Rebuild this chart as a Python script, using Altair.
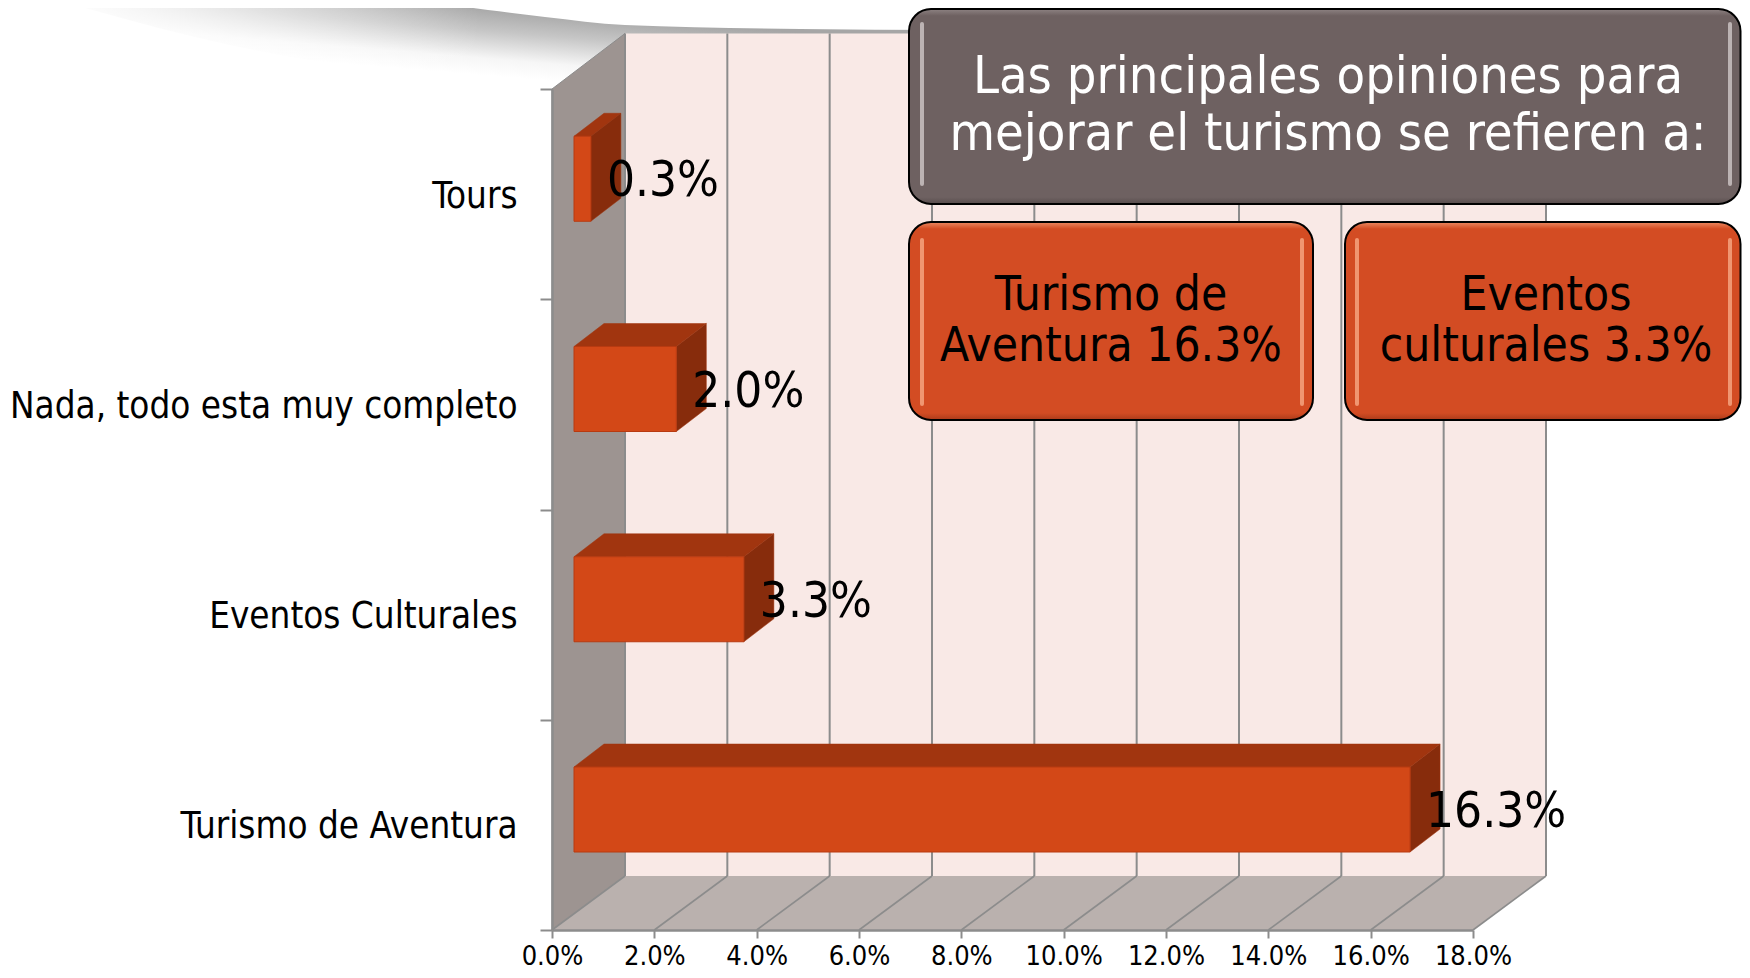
import altair as alt
import pandas as pd

categories = ["Tours", "Nada, todo esta muy completo", "Eventos Culturales", "Turismo de Aventura"]
values = [0.33, 2.0, 3.32, 16.34]
x_ticks = [0, 2, 4, 6, 8, 10, 12, 14, 16, 18]

swoosh_x = [57, 230, 402, 488, 545, 625, 800, 950, 1093, 1100]
swoosh_top = [0, 0, 0, 10, 17, 25, 29, 30, 4, 3]
swoosh_low = [0, 45, 75, 88, 90, 90, 90, 90, 90, 90]
fade_x = [57, 230, 402, 480]
fade_top = [-2, -2, -2, -2]
fade_low = [92, 92, 92, 92]

FONT = "DejaVu Sans Condensed"
AX0, AX1, AY0, AY1 = 552, 1473, 89, 930   # front axis box in page pixels
PX = (AX1 - AX0) / 18.0
PY = (AY1 - AY0) / 4.0
W, H = AX1 - AX0, AY1 - AY0
PAD = dict(left=AX0 - 8, top=AY0 - 8, right=1734 - (AX0 - 8) - W, bottom=962 - (AY0 - 8) - H)

def vx(px):
    return (px - AX0) / PX

def vy(py):
    return (AY1 - py) / PY

xs = alt.Scale(domain=[0, 18], nice=False, zero=False)
ys = alt.Scale(domain=[0, 4], nice=False, zero=False)
GRID = "#8c8c8c"

x_axis = alt.Axis(
    values=x_ticks, labelExpr="format(datum.value, '.1f') + '%'", title=None, grid=False,
    labelFont=FONT, labelFontSize=27, labelColor="#000000", labelPadding=5, labelOverlap=False,
    labelFlush=False, labelBound=False,
    tickSize=8, tickColor=GRID, tickWidth=2, domainColor=GRID, domainWidth=2.5, zindex=1)

def X(f="x", **k):
    return alt.X(f + ":Q", scale=xs, axis=x_axis, **k)

def Y(f="y", **k):
    return alt.Y(f + ":Q", scale=ys, axis=None, **k)

rows = [3, 2, 1, 0]
DEPTH_WX = 73 / PX
DEPTH_WY = 54 / PY
BAR_X0 = vx(574)
BAR_DX = 30 / PX
BAR_DY = 23 / PY
BAR_LO = (AY1 - 852) / PY
BAR_HI = (AY1 - 767) / PY

# invisible layer that carries the category axis
axis_df = pd.DataFrame({"cat": categories, "v": values})
axis_layer = alt.Chart(axis_df).mark_bar(opacity=0).encode(
    x=X("v"),
    y=alt.Y("cat:N", sort=categories,
            scale=alt.Scale(domain=categories, paddingInner=0, paddingOuter=0),
            axis=alt.Axis(title=None, grid=False, tickBand="extent", labelFont=FONT, labelFontSize=36.5,
                          labelColor="#000000", labelPadding=23, labelLimit=600, labelOffset=2, tickSize=12,
                          tickColor=GRID, tickWidth=2, domainColor=GRID, domainWidth=2.5, zindex=1)),
)

swoosh = alt.Chart(pd.DataFrame({
    "x": [vx(p) for p in swoosh_x],
    "y": [vy(p) for p in swoosh_top],
    "y2": [vy(p) for p in swoosh_low],
})).mark_area(
    interpolate="monotone",
    color=alt.Gradient(gradient="linear", x1=-0.05, y1=0.40, x2=0.33, y2=0.0,
                       stops=[alt.GradientStop(color="#ffffff", offset=0),
                              alt.GradientStop(color="#f6f6f6", offset=0.25),
                              alt.GradientStop(color="#dedede", offset=0.45),
                              alt.GradientStop(color="#c6c6c6", offset=0.65),
                              alt.GradientStop(color="#a6a6a6", offset=1)]),
).encode(x=X(), y=Y(), y2="y2:Q")

swoosh_fade = alt.Chart(pd.DataFrame({
    "x": [vx(p) for p in fade_x],
    "y": [vy(p) for p in fade_top],
    "y2": [vy(p) for p in fade_low],
})).mark_area(
    color=alt.Gradient(gradient="linear", x1=0, y1=0, x2=1, y2=0,
                       stops=[alt.GradientStop(color="rgba(255,255,255,1)", offset=0),
                              alt.GradientStop(color="rgba(255,255,255,0)", offset=1)]),
).encode(x=X(), y=Y(), y2="y2:Q")

back_wall = alt.Chart(pd.DataFrame({"x": [DEPTH_WX], "x2": [18 + DEPTH_WX], "y": [DEPTH_WY], "y2": [vy(33.5)]})).mark_rect(
    color="#f9e9e6").encode(x=X(), x2="x2:Q", y=Y(), y2="y2:Q")

side_wall = alt.Chart(pd.DataFrame({"x": [0, DEPTH_WX], "y": [0, DEPTH_WY], "y2": [4, vy(33.5)]})).mark_area(
    color="#9d9491", stroke=GRID, strokeWidth=1).encode(x=X(), y=Y(), y2="y2:Q")

floor = alt.Chart(pd.DataFrame({"x": [0, DEPTH_WX], "x2": [18, 18 + DEPTH_WX], "y": [0, DEPTH_WY]})).mark_area(
    color="#bab1ae", orient="horizontal").encode(x=X(), x2="x2:Q", y=Y())

back_grid = alt.Chart(pd.DataFrame({"t": x_ticks})).transform_calculate(
    x=f"datum.t + {DEPTH_WX}", y=f"{DEPTH_WY}", y2=f"{vy(33.5)}"
).mark_rule(color=GRID, strokeWidth=2).encode(x=X(), y=Y(), y2="y2:Q")

floor_rows = []
for t in x_ticks:
    floor_rows.append({"t": t, "x": t, "y": 0})
    floor_rows.append({"t": t, "x": t + DEPTH_WX, "y": DEPTH_WY})
floor_grid = alt.Chart(pd.DataFrame(floor_rows)).mark_line(color=GRID, strokeWidth=1.6).encode(
    x=X(), y=Y(), detail="t:N")

bars = pd.DataFrame({"cat": categories, "v": values, "row": rows})
bars["x"] = BAR_X0
bars["x2"] = BAR_X0 + bars["v"]
bars["y"] = bars["row"] + BAR_LO
bars["y2"] = bars["row"] + BAR_HI
bars["lx"] = bars["x2"]
bars["ly"] = bars["row"] + (AY1 - 827) / PY
bars["label"] = [f"{v:.1f}%" for v in values]

top_rows, side_rows = [], []
for c, v, r in zip(categories, values, rows):
    top_rows.append({"cat": c, "x": BAR_X0, "x2": BAR_X0 + v, "y": r + BAR_HI})
    top_rows.append({"cat": c, "x": BAR_X0 + BAR_DX, "x2": BAR_X0 + v + BAR_DX, "y": r + BAR_HI + BAR_DY})
    side_rows.append({"cat": c, "x": BAR_X0 + v, "y": r + BAR_LO, "y2": r + BAR_HI})
    side_rows.append({"cat": c, "x": BAR_X0 + v + BAR_DX, "y": r + BAR_LO + BAR_DY, "y2": r + BAR_HI + BAR_DY})

bar_top = alt.Chart(pd.DataFrame(top_rows)).mark_area(
    color="#a1350f", orient="horizontal", stroke="#a1350f", strokeWidth=0.5).encode(
    x=X(), x2="x2:Q", y=Y(), detail="cat:N")
bar_side = alt.Chart(pd.DataFrame(side_rows)).mark_area(
    color="#872c0c", stroke="#a1350f", strokeWidth=0.5).encode(x=X(), y=Y(), y2="y2:Q", detail="cat:N")
bar_front = alt.Chart(bars).mark_rect(color="#d34817", stroke="#b83a10", strokeWidth=1).encode(
    x=X(), x2="x2:Q", y=Y(), y2="y2:Q")
bar_label = alt.Chart(bars).mark_text(
    align="left", baseline="alphabetic", font=FONT, fontSize=49, color="#000000", dx=16).encode(
    x=X("lx"), y=Y("ly"), text="label:N")

layers = [axis_layer, swoosh, swoosh_fade, side_wall, floor, back_wall, back_grid, floor_grid, bar_top, bar_side, bar_front, bar_label]

# the three call-out boxes
def box(x0, x1, y0, y1, fill, light, dark, hi, hl, hr, hy0, hy1):
    d = pd.DataFrame({"a": [1]})
    grad = alt.Gradient(gradient="linear", x1=0, y1=0, x2=0, y2=1, stops=[
        alt.GradientStop(color=light, offset=0),
        alt.GradientStop(color=fill, offset=0.035),
        alt.GradientStop(color=fill, offset=0.965),
        alt.GradientStop(color=dark, offset=1)])
    rect = alt.Chart(d).mark_rect(color=grad, stroke="#000000", strokeWidth=2, cornerRadius=22).encode(
        x=alt.value(x0 - AX0), x2=alt.value(x1 - AX0), y=alt.value(y0 - AY0), y2=alt.value(y1 - AY0))
    out = [rect]
    for hx in (hl, hr):
        out.append(alt.Chart(d).mark_rule(color=hi, strokeWidth=4, strokeCap="round", opacity=0.8).encode(
            x=alt.value(hx - AX0), y=alt.value(hy0 - AY0), y2=alt.value(hy1 - AY0)))
    return out

layers += box(909, 1740.5, 9, 204, "#6e6161", "#8e8383", "#584d4d", "#cfc8c8", 922, 1730, 24, 184)
layers += box(909, 1313, 222, 420, "#d34c23", "#ec8a62", "#ab3b1a", "#f7a985", 922, 1302, 240, 404)
layers += box(1345, 1740.5, 222, 420, "#d34c23", "#ec8a62", "#ab3b1a", "#f7a985", 1357, 1730, 240, 404)

def line(txt, cx, base, size, color):
    return alt.Chart(pd.DataFrame({"t": [txt]})).mark_text(
        align="center", baseline="alphabetic", font=FONT, fontSize=size, color=color).encode(
        x=alt.value(cx - AX0), y=alt.value(base - AY0), text="t:N")

layers += [
    line("Las principales opiniones para", 1328, 93, 52, "#ffffff"),
    line("mejorar el turismo se refieren a:", 1328, 150, 52, "#ffffff"),
    line("Turismo de", 1111, 310, 47.5, "#000000"),
    line("Aventura 16.3%", 1111, 361, 47.5, "#000000"),
    line("Eventos", 1546, 310, 47.5, "#000000"),
    line("culturales 3.3%", 1546, 361, 47.5, "#000000"),
]

chart = alt.layer(*layers).resolve_scale(y="independent").properties(
    width=W, height=H, padding=PAD, autosize=alt.AutoSizeParams(type="none"),
    background="#ffffff",
).configure_view(stroke=None)

chart.save("out.html", embed_options={"renderer": "svg", "actions": False})
